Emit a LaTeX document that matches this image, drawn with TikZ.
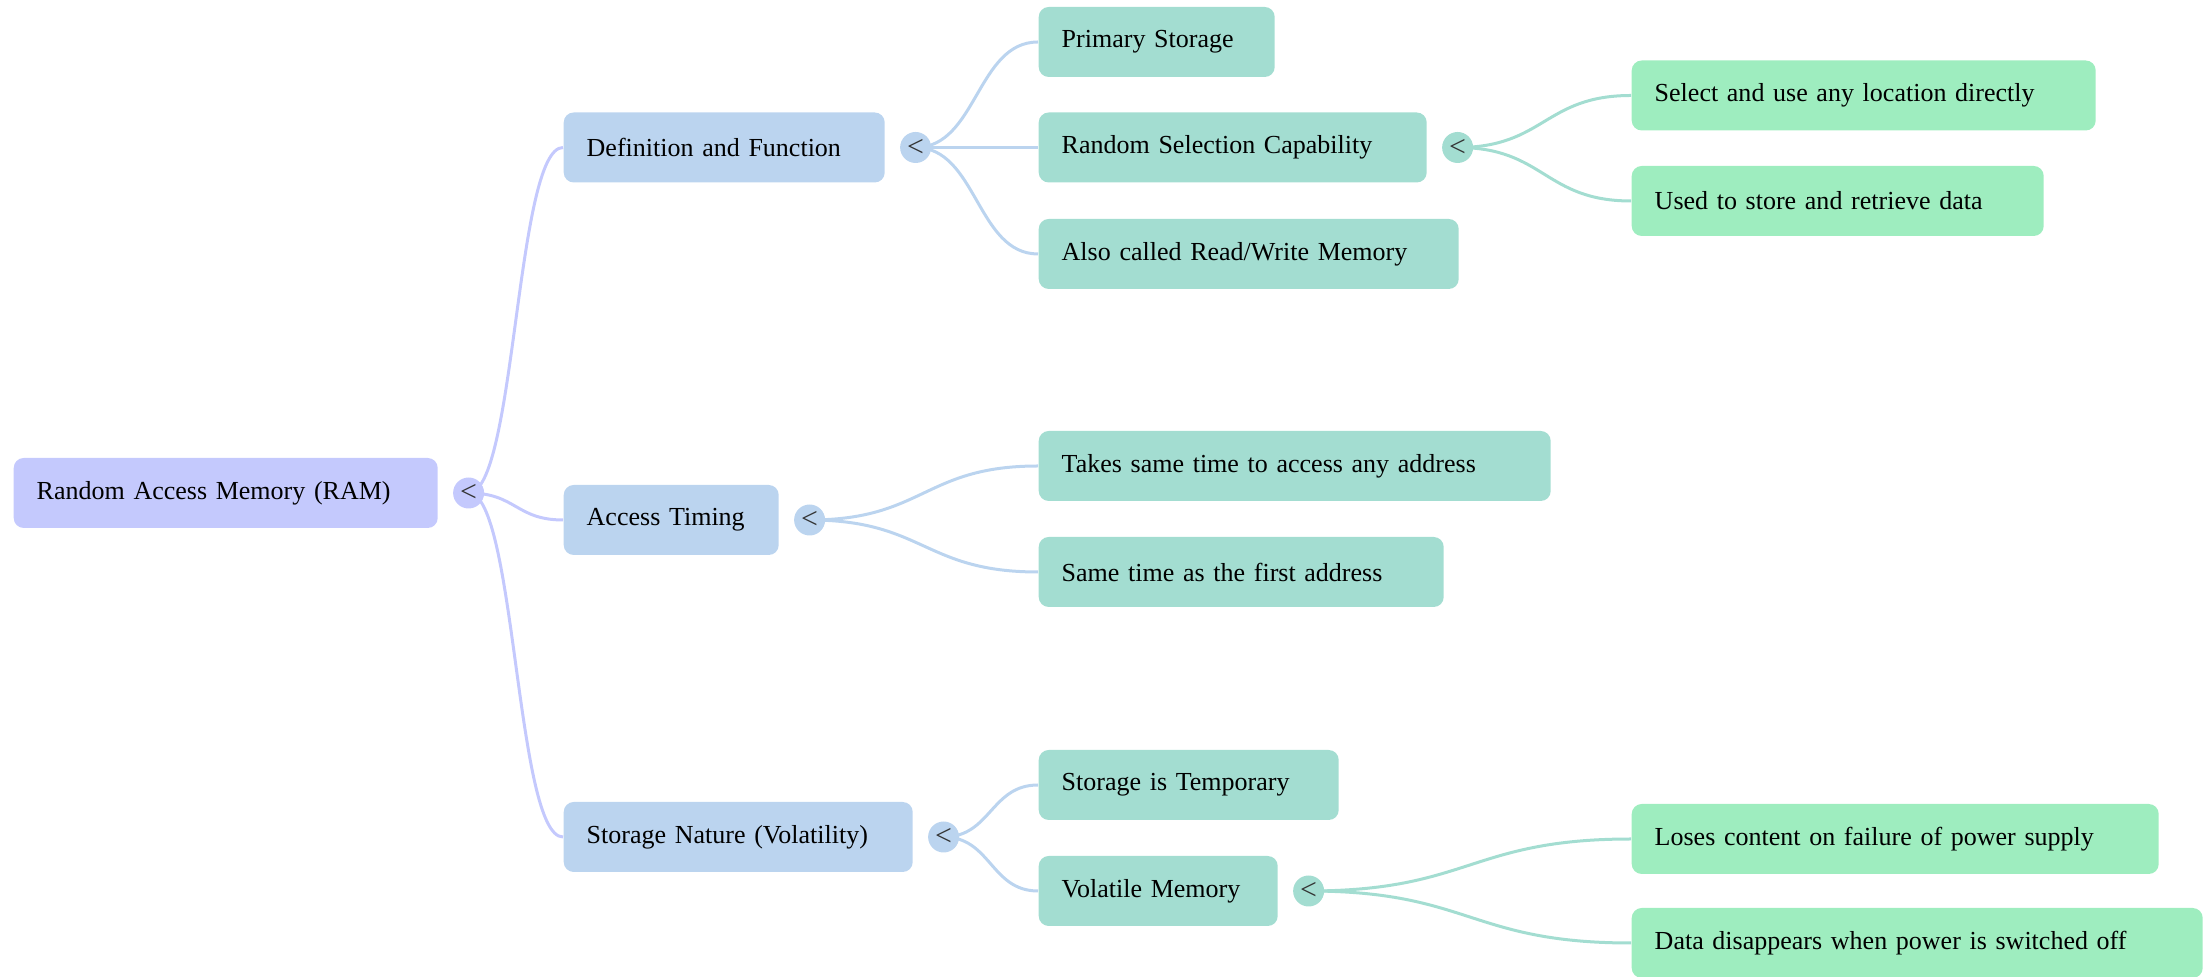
\documentclass[tikz,border=0pt]{standalone}
\usepackage{fontspec}
\setmainfont{Liberation Serif}
\usetikzlibrary{positioning,backgrounds}

\definecolor{ramcol}{HTML}{C4C9FD}
\definecolor{lvlone}{HTML}{BBD4EF}
\definecolor{lvltwo}{HTML}{A3DDD1}
\definecolor{lvlthree}{HTML}{9EEDBF}
\definecolor{knobtext}{HTML}{333333}

\begin{document}
\begin{tikzpicture}[x=1cm,y=-1cm,
    every node/.style={font=\fontsize{7.4}{9}\selectfont},
    box/.style={rectangle,rounded corners=0.1cm,minimum height=0.7cm,
      inner xsep=0.23cm,inner ysep=0pt,anchor=west,align=left},
    knob/.style={circle,minimum size=0.31cm,inner sep=0pt,text=knobtext,
      font=\fontsize{8.5}{9}\selectfont},
    link/.style={line width=0.03cm}]

    \useasboundingbox (0,0) rectangle (22.03,9.77);

    % Root
    \node[box,fill=ramcol,text width=3.78cm] (ram) at (0.13,4.93) {Random Access Memory (RAM)};
    \node[knob,fill=ramcol,right=0.14cm of ram] (ramk) {<};

    % First level
    \node[box,fill=lvlone,text width=2.75cm] (def) at (5.63,1.475) {Definition and Function};
    \node[box,fill=lvlone,text width=1.69cm] (acct) at (5.63,5.20) {Access Timing};
    \node[box,fill=lvlone,text width=3.03cm] (storn) at (5.63,8.37) {Storage Nature (Volatility)};
    \node[knob,fill=lvlone,right=0.14cm of def] (defk) {<};
    \node[knob,fill=lvlone,right=0.14cm of acct] (acctk) {<};
    \node[knob,fill=lvlone,right=0.14cm of storn] (stornk) {<};

    % Second level
    \node[box,fill=lvltwo,text width=1.90cm] (prim) at (10.38,0.42) {Primary Storage};
    \node[box,fill=lvltwo,text width=3.42cm] (rsel) at (10.38,1.475) {Random Selection Capability};
    \node[box,fill=lvltwo,text width=3.74cm] (also) at (10.38,2.54) {Also called Read/Write Memory};
    \node[box,fill=lvltwo,text width=4.66cm] (takes) at (10.38,4.66) {Takes same time to access any address};
    \node[box,fill=lvltwo,text width=3.59cm] (same) at (10.38,5.72) {Same time as the first address};
    \node[box,fill=lvltwo,text width=2.54cm] (temp) at (10.38,7.85) {Storage is Temporary};
    \node[box,fill=lvltwo,text width=1.93cm] (vol) at (10.38,8.91) {Volatile Memory};
    \node[knob,fill=lvltwo,right=0.14cm of rsel] (rselk) {<};
    \node[knob,fill=lvltwo,right=0.14cm of vol] (volk) {<};

    % Third level
    \node[box,fill=lvlthree,text width=4.18cm] (sel) at (16.31,0.955) {Select and use any location directly};
    \node[box,fill=lvlthree,text width=3.66cm] (used) at (16.31,2.01) {Used to store and retrieve data};
    \node[box,fill=lvlthree,text width=4.81cm] (loses) at (16.31,8.39) {Loses content on failure of power supply};
    \node[box,fill=lvlthree,text width=5.25cm] (data) at (16.31,9.43) {Data disappears when power is switched off};

    % Branches
    \begin{scope}[on background layer]
      \foreach \a/\b/\col in {ramk/def/ramcol,ramk/acct/ramcol,ramk/storn/ramcol,
          defk/prim/lvlone,defk/rsel/lvlone,defk/also/lvlone,
          acctk/takes/lvlone,acctk/same/lvlone,
          stornk/temp/lvlone,stornk/vol/lvlone,
          rselk/sel/lvltwo,rselk/used/lvltwo,
          volk/loses/lvltwo,volk/data/lvltwo} {
        \path (\a.center) -- coordinate[pos=0.5] (mid) (\b.west);
        \draw[link,\col] (\a.center) .. controls (mid |- \a.center) and (mid |- \b.west) .. (\b.west);
      }
    \end{scope}

  \end{tikzpicture}
\end{document}
